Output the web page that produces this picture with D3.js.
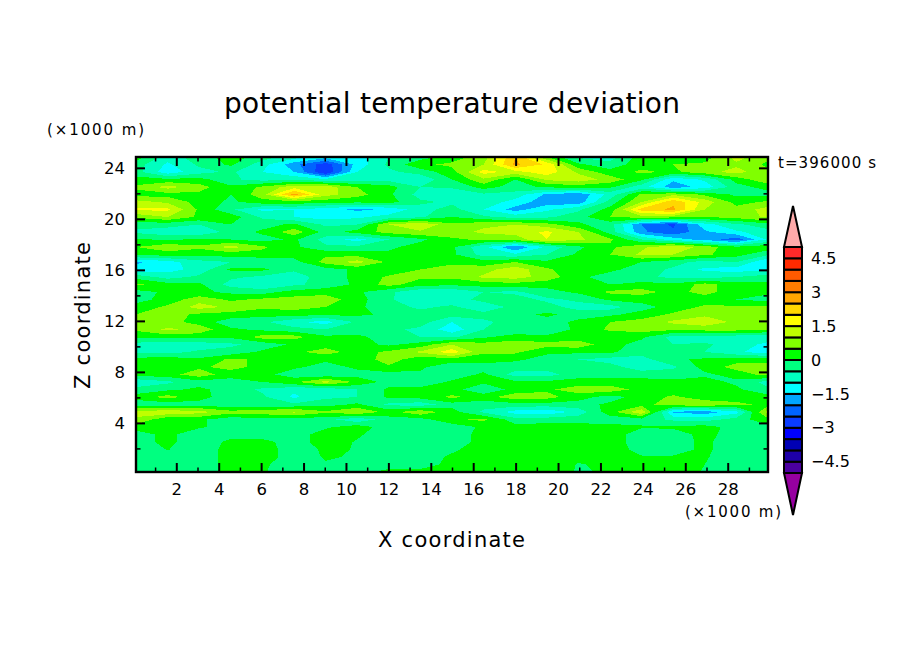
<!DOCTYPE html>
<html>
<head>
<meta charset="utf-8">
<script src="https://d3js.org/d3.v7.min.js"></script>
<style>
  html, body { margin: 0; padding: 0; background: #fff; }
  text { font-family: "DejaVu Sans", sans-serif; fill: #000; }
</style>
</head>
<body>
<div id="chart"></div>
<script>
// band edges and fills, lowest band first
const levels = [-5,-4.5,-4,-3.5,-3,-2.5,-2,-1.5,-1,-0.5,0,0.5,1,1.5,2,2.5,3,3.5,4,4.5,5];
const bandColors = [
  "#4b00a0","#1e00a8","#0000b4","#0000ff","#0a3cff","#0064ff","#00a5ff","#00ffff","#00ffc0","#00ff80",
  "#00ff00","#80ff00","#c0ff00","#ffff00","#ffd700","#ffa500","#ff7d00","#ff5a00","#ff2a00","#ff2a2a"
];
const underColor = "#9600a0";
const overColor = "#ffaaaa";
const barTicks = [-4.5,-3,-1.5,0,1.5,3,4.5];

const xTicks = [2,4,6,8,10,12,14,16,18,20,22,24,26,28];
const xMinor = [1,3,5,7,9,11,13,15,17,19,21,23,25,27,29];
const zTicks = [4,8,12,16,20,24];
const zMinor = [2,6,10,14,18,22];

// grid is 21 columns (x, 0.1..29.9 km) by 43 rows (z, top row first)
const theta = [
  [0.25,-0.75,-0.25,0.25,-0.25,-0.75,-1.25,-1.25,-0.5,-0.25,0.25,0.75,2.5,0.5,-0.6,-0.75,0.25,0.25,0.25,1.2,0.6],
  [-0.25,-1.1,-0.4,0.1,-0.8,-1.8,-2.8,-1.3,-0.4,0.4,0.6,1.0,2.6,1.9,0.1,-0.3,0.3,0.5,0.6,0.9,0.4],
  [-0.3,-1.3,-0.7,-0.4,-1.0,-1.5,-3.0,-1.0,-0.6,-0.3,0.3,1.7,1.3,1.8,0.9,0.2,0.6,0.4,0.8,1.2,0.6],
  [0.2,0.1,0.2,-0.4,-0.7,-0.6,-0.9,-0.7,-0.7,-0.9,0.0,0.9,0.0,1.1,1.3,0.8,0.1,-1.4,-0.9,0.2,0.9],
  [0.6,1.2,0.7,0.1,0.6,1.3,1.3,0.5,0.2,-0.5,-0.4,0.2,-0.2,0.1,0.2,0.1,-0.8,-1.8,-1.3,-0.2,0.2],
  [0.3,0.3,0.4,0.0,0.8,2.7,1.2,0.7,0.1,-0.7,-1.0,-0.6,-0.7,-1.6,-1.9,-0.8,0.6,0.9,0.4,-0.1,-0.2],
  [1.2,0.9,0.3,-0.1,0.3,0.3,0.2,0.1,0.2,-0.4,-0.6,-0.7,-1.2,-1.8,-1.8,-0.3,1.0,2.4,1.3,0.3,0.6],
  [1.6,1.6,0.4,-0.4,-1.1,-1.0,-1.3,-1.6,-1.4,-0.7,-0.3,-1.0,-1.7,-1.1,-0.6,0.2,2.2,2.6,1.0,0.7,1.2],
  [0.6,1.0,0.4,0.3,-0.6,-1.0,-1.2,-1.1,-0.8,-0.6,0.0,-0.4,-0.7,-0.6,-0.2,0.5,0.8,0.7,0.5,0.7,1.1],
  [-0.3,-0.3,-0.5,0.0,-0.2,0.1,-0.6,-0.5,1.0,1.5,0.6,0.9,1.0,0.7,0.1,-0.3,-2.0,-2.6,-1.2,-0.6,-0.2],
  [-0.6,-0.8,-0.9,-0.3,0.1,0.8,-0.2,0.2,0.7,0.9,0.8,1.1,1.2,1.6,1.0,-0.2,-1.9,-2.4,-1.6,-1.1,-0.7],
  [0.1,-0.1,0.1,0.0,-0.2,0.1,-0.7,-1.2,-0.5,-0.1,0.4,0.6,0.7,1.5,1.1,0.6,-0.5,-1.2,-1.7,-2.3,-0.9],
  [0.5,0.9,0.6,1.2,0.6,0.1,-0.4,-0.4,-0.1,0.2,0.1,-0.9,-2.0,-0.9,-0.1,0.4,0.9,1.4,0.8,0.1,0.3],
  [0.2,0.2,0.2,0.2,0.3,0.2,0.4,0.3,0.1,0.1,0.1,-0.7,-0.9,-0.5,0.1,0.5,1.1,1.0,0.6,0.2,-0.4],
  [-1.6,-1.2,-0.7,-0.5,-0.4,-0.2,0.7,1.2,0.4,0.1,0.3,0.2,0.5,0.1,0.1,0.1,0.0,-0.3,-0.7,-0.5,-1.5],
  [-1.3,-1.2,-0.8,0.1,0.1,-0.4,-0.2,0.1,0.1,0.5,0.9,0.8,1.3,0.6,0.1,0.1,-0.2,-0.6,-1.1,-1.2,-1.2],
  [-0.2,-0.7,-0.4,-0.4,-0.6,-0.8,-0.2,0.1,0.6,0.6,0.6,1.1,1.2,0.8,0.1,-0.2,-0.4,-0.6,-0.7,-0.5,-0.2],
  [0.6,0.2,0.1,-0.7,-1.0,-0.6,-0.3,0.1,0.7,0.2,0.1,0.2,0.3,0.2,0.1,0.0,0.2,0.1,0.7,0.2,0.1],
  [-0.2,0.1,0.1,-0.1,-0.2,0.2,0.3,0.1,-0.4,-0.9,-0.9,-0.5,-0.6,-0.2,0.1,0.6,0.7,0.3,0.7,0.2,0.1],
  [-0.2,0.2,0.8,0.4,0.6,0.7,0.8,0.2,-0.4,-1.0,-0.8,-0.3,-0.3,-0.6,-0.4,0.1,0.2,0.3,0.2,0.0,-0.2],
  [0.2,0.6,1.2,0.9,0.6,0.7,0.5,0.1,-0.3,-0.6,-0.4,-0.9,-0.3,-0.3,-0.7,-0.7,-0.2,0.2,0.6,0.6,0.6],
  [0.5,0.7,0.4,0.3,0.2,0.2,0.1,0.1,-0.1,-0.3,-0.3,-0.3,-0.2,0.1,-0.2,-0.1,0.2,0.6,0.9,0.8,0.8],
  [0.9,0.7,0.3,-0.3,-0.4,-0.9,-1.2,-0.4,-0.4,-0.3,-1.0,-0.6,-0.3,-0.2,0.1,0.5,0.7,1.1,1.3,0.9,0.6],
  [0.6,1.1,0.8,0.1,-0.1,-0.3,-0.5,-0.2,-0.4,-0.6,-1.3,-0.5,-0.5,-0.3,0.1,0.6,0.7,0.6,0.7,0.7,0.5],
  [0.1,0.2,0.2,0.1,0.7,0.7,0.1,0.1,-0.2,-0.5,-0.6,-0.1,0.3,0.1,0.2,0.1,0.1,-0.7,-0.8,-0.8,-0.8],
  [-0.7,-0.9,-0.8,-0.6,-0.3,0.1,0.3,0.2,-0.1,0.2,1.0,0.7,0.7,0.7,0.8,0.2,-0.2,-0.5,-0.4,-0.8,-1.1],
  [-0.6,-0.7,-0.4,-0.3,0.1,0.4,0.7,0.3,0.6,1.1,1.8,0.6,0.6,0.1,0.1,0.1,-0.3,-0.4,-0.5,-0.9,-1.3],
  [0.2,0.3,0.1,0.6,0.4,0.5,0.1,0.1,0.8,0.1,0.3,0.2,0.1,-0.2,-0.5,-0.7,-0.7,-0.1,0.1,0.3,0.2],
  [0.5,0.2,0.4,0.7,0.3,0.1,-0.2,0.1,0.4,0.1,-0.4,-0.2,-0.3,-0.3,-0.2,-0.3,-0.8,-0.6,0.2,0.7,0.8],
  [0.2,0.3,0.8,0.2,0.2,-0.3,-0.4,-0.2,-0.2,-0.1,-0.3,0.1,-0.7,-0.7,-0.2,-0.2,-0.2,-0.2,-0.1,0.2,0.7],
  [-0.9,-0.6,-0.2,-0.2,0.0,0.4,1.2,0.4,-0.2,-0.4,0.1,0.1,0.1,0.1,0.2,0.2,0.2,0.1,0.2,-0.1,-0.7],
  [-0.3,-0.1,0.1,-0.2,-0.6,-0.9,-0.9,-0.5,0.1,0.2,0.2,-0.4,0.2,0.4,0.8,0.8,0.3,0.2,0.1,0.1,-0.4],
  [0.2,0.7,0.2,-0.3,-0.4,-1.1,-0.6,-0.5,0.1,0.2,0.6,0.3,0.8,0.7,0.2,-0.2,0.2,0.6,0.2,0.1,0.2],
  [-0.3,-0.3,-0.2,-0.4,-0.3,-0.4,-0.2,0.1,-0.6,-0.8,-0.2,-0.3,-0.2,-0.2,-0.2,0.1,0.3,0.8,0.9,0.7,0.3],
  [1.2,1.4,1.2,0.7,0.8,1.1,0.6,1.0,0.3,0.9,0.2,-0.6,-1.2,-1.4,-0.8,0.3,1.4,-1.6,-1.8,-1.2,1.2],
  [0.9,0.1,0.1,-0.3,-0.2,-0.2,-0.3,-0.9,-0.2,-0.2,0.4,0.6,-0.3,-0.2,-0.2,-0.3,-0.2,-0.6,-0.7,-0.3,0.4],
  [0.3,0.3,0.1,-0.3,-0.3,-0.3,-0.1,0.3,-0.3,-0.3,-0.3,0.1,0.2,0.2,0.2,0.2,0.05,0.1,0.2,-0.2,-0.2],
  [-0.3,0.2,-0.5,-0.3,-0.3,-0.3,0.3,0.1,-0.4,-0.3,-0.3,0.2,0.3,0.3,0.3,0.3,-0.3,-0.3,0.2,-0.3,-0.3],
  [-0.3,0.2,-0.5,0.2,0.2,-0.3,0.3,-0.05,-0.3,-0.3,-0.3,0.2,0.3,0.3,0.3,0.3,-0.3,-0.2,0.1,-0.3,-0.3],
  [-0.3,0.02,-0.3,0.2,0.3,-0.3,0.1,-0.03,-0.3,-0.3,-0.1,0.3,0.3,0.3,0.1,0.3,-0.2,-0.2,0.1,-0.3,-0.3],
  [-0.3,-0.3,-0.3,0.2,0.3,-0.3,0.05,-0.05,-0.3,-0.3,0.1,0.3,0.3,0.3,0.1,0.2,0.05,0.05,0.05,-0.3,-0.3],
  [-0.3,-0.3,-0.3,0.2,0.1,-0.3,-0.05,-0.3,-0.3,-0.3,0.2,0.3,0.3,0.3,-0.03,0.1,0.3,0.3,0.0,-0.3,-0.3],
  [-0.3,-0.3,-0.3,0.2,0.05,-0.3,-0.2,-0.2,0.2,0.2,0.3,0.3,0.3,0.3,-0.05,0.05,0.3,0.3,-0.05,-0.3,-0.3]
];

const width = 904;
const height = 654;
const plot = { left: 136, right: 768, top: 157, bottom: 472 };
const bar = { left: 784, right: 802, top: 247, bottom: 473, tipTop: 206, tipBottom: 515 };

const svg = d3.select("#chart").append("svg").attr("width", width).attr("height", height);

const nz = theta.length;
const nx = theta[0].length;
const x = d3.scaleLinear().domain([0.1, 29.9]).range([plot.left, plot.right]);
const z = d3.scaleLinear().domain([0.15, 24.85]).range([plot.bottom, plot.top]);
// contour coordinates run in grid cells, top row first
const gridX = d3.scaleLinear().domain([0.5, nx - 0.5]).range([plot.left, plot.right]);
const gridY = d3.scaleLinear().domain([0.5, nz - 0.5]).range([plot.top, plot.bottom]);

svg.append("clipPath").attr("id", "plotClip").append("rect")
  .attr("x", plot.left).attr("y", plot.top)
  .attr("width", plot.right - plot.left).attr("height", plot.bottom - plot.top);

const contours = d3.contours().size([nx, nz]).thresholds(levels.slice(0, -1))(theta.flat());
const path = d3.geoPath(d3.geoTransform({
  point(px, py) { this.stream.point(gridX(px), gridY(py)); }
}));

svg.append("g").attr("clip-path", "url(#plotClip)")
  .selectAll("path").data(contours).join("path")
  .attr("d", path)
  .attr("fill", (d, i) => bandColors[i])
  .attr("shape-rendering", "crispEdges");

// axes, ticks point inward on all four sides
function drawAxis(axisFn, scale, majors, minors, tx, ty, showLabels) {
  const g = svg.append("g").attr("transform", `translate(${tx},${ty})`);
  g.call(axisFn(scale).tickValues(majors).tickSize(-9).tickPadding(11)
    .tickFormat(showLabels ? d3.format("d") : ""));
  g.call((s) => s.select(".domain").remove());
  g.selectAll(".tick line").attr("stroke", "#000").attr("stroke-width", 2);
  g.selectAll("text").style("font-size", "16.5px").attr("fill", "#000");
  const m = svg.append("g").attr("transform", `translate(${tx},${ty})`);
  m.call(axisFn(scale).tickValues(minors).tickSize(-4.5).tickFormat(""));
  m.call((s) => s.select(".domain").remove());
  m.selectAll(".tick line").attr("stroke", "#000").attr("stroke-width", 1.5);
}
drawAxis(d3.axisBottom, x, xTicks, xMinor, 0, plot.bottom, true);
drawAxis(d3.axisTop, x, xTicks, xMinor, 0, plot.top, false);
drawAxis(d3.axisLeft, z, zTicks, zMinor, plot.left, 0, true);
drawAxis(d3.axisRight, z, zTicks, zMinor, plot.right, 0, false);

svg.append("rect")
  .attr("x", plot.left).attr("y", plot.top)
  .attr("width", plot.right - plot.left).attr("height", plot.bottom - plot.top)
  .attr("fill", "none").attr("stroke", "#000").attr("stroke-width", 2.4);

// titles
function label(text, px, py, size, anchor, length) {
  const t = svg.append("text").attr("x", px).attr("y", py)
    .attr("text-anchor", anchor || "start").style("font-size", size + "px")
    .text(text);
  if (length) t.attr("textLength", length).attr("lengthAdjust", "spacing");
  return t;
}
label("potential temperature deviation", 224, 113, 28, "start", 456);
label("X coordinate", 378, 547, 21, "start", 147);
label("Z coordinate", 0, 0, 21, "start", 147)
  .attr("transform", "translate(90,389) rotate(-90)");
label("(×1000 m)", 47, 135, 15, "start", 97);
label("(×1000 m)", 685, 517, 15, "start", 96);
label("t=396000 s", 778, 168, 15, "start", 98);

// colour bar
const barY = d3.scaleLinear().domain([-5, 5]).range([bar.bottom, bar.top]);
const barG = svg.append("g");
barG.selectAll("rect").data(bandColors).join("rect")
  .attr("x", bar.left)
  .attr("y", (d, i) => barY(levels[i + 1]))
  .attr("width", bar.right - bar.left)
  .attr("height", (d, i) => barY(levels[i]) - barY(levels[i + 1]))
  .attr("fill", (d) => d)
  .attr("stroke", "#000")
  .attr("stroke-width", 2);
const barMid = (bar.left + bar.right) / 2;
barG.append("polygon")
  .attr("points", `${bar.left},${bar.top} ${barMid},${bar.tipTop} ${bar.right},${bar.top}`)
  .attr("fill", overColor).attr("stroke", "#000").attr("stroke-width", 2);
barG.append("polygon")
  .attr("points", `${bar.left},${bar.bottom} ${barMid},${bar.tipBottom} ${bar.right},${bar.bottom}`)
  .attr("fill", underColor).attr("stroke", "#000").attr("stroke-width", 2);

const barAxis = svg.append("g").attr("transform", `translate(${bar.right},0)`);
barAxis.call(d3.axisRight(barY).tickValues(barTicks).tickSize(0).tickPadding(9)
  .tickFormat((d) => String(d).replace("-", "\u2212")));
barAxis.select(".domain").remove();
barAxis.selectAll("text").style("font-size", "16px").attr("fill", "#000");
</script>
</body>
</html>
